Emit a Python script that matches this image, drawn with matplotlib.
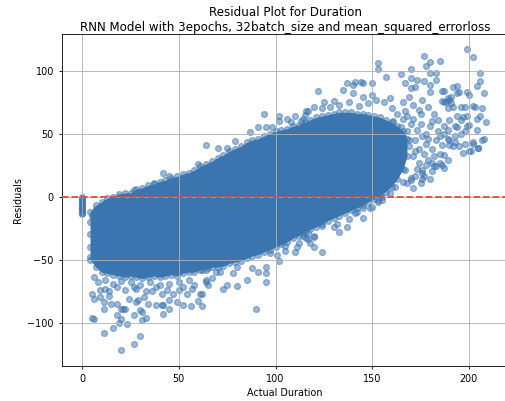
import numpy as np
import matplotlib
matplotlib.use("Agg")
import matplotlib.pyplot as plt

plt.rcParams["font.size"] = 6.9

# residuals of the rows whose actual duration is 0
zero_res = [0, -1, -2, -3, -4, -5, -6, -7, -8, -9, -10, -11, -12, -13, -14]

# outline of the dense middle of the cloud (actual duration -> residual range)
core_dur = [4, 7, 10, 13, 16, 19, 22, 25, 28, 31, 34, 37, 40, 43, 46, 49, 52, 55, 58, 61,
            64, 67, 70, 73, 76, 79, 82, 85, 88, 91, 94, 97, 100, 103, 106, 109, 112, 115,
            118, 121, 124, 127, 130, 133, 136, 139, 142, 145, 148, 151, 154, 157, 160, 163,
            166, 168]
core_hi = [-12, -7, -4, -1, 0, 2, 3, 3, 6, 7, 9, 10, 12, 13, 15, 16, 18, 19, 21, 24,
           26, 28, 31, 33, 36, 38, 40, 43, 45, 46, 48, 50, 52, 53, 54, 56, 57, 59,
           61, 63, 64, 65, 66, 67, 67, 67, 66, 66, 65, 64, 63, 61, 59, 56,
           52, 46]
core_lo = [-50, -56, -60, -61, -62, -63, -64, -63, -64, -65, -64, -63, -64, -63, -62, -63,
           -61, -60, -60, -58, -58, -56, -56, -55, -53, -52, -51, -49, -47, -46, -44, -42,
           -40, -38, -36, -33, -31, -28, -26, -24, -22, -19, -17, -15, -13, -11, -9, -7,
           -4, -2, 1, 4, 8, 14, 22, 32]

# scattered points above the cloud
upper_pts = [(7, -10), (10, -10), (15, -3), (19, 0), (27, 5), (37, 11), (42, 19), (45, 16),
             (60, 26), (64, 41), (70, 39), (75, 39), (79, 44), (87, 51), (91, 55), (94, 66),
             (95, 55), (98, 55), (102, 60), (102, 64), (108, 59), (113, 60), (114, 62),
             (115, 65), (117, 68), (116, 68), (120, 71), (122, 84), (125, 75), (130, 76),
             (135, 85), (137, 90), (140, 89), (140, 82), (141, 91), (144, 91), (145, 90),
             (145, 79), (150, 90), (150, 81), (152, 77), (153, 106), (153, 101), (156, 75),
             (157, 95), (159, 78), (128, 71), (133, 73), (138, 75), (143, 72), (148, 74),
             (110, 64), (106, 62), (124, 70)]

# long durations, where the cloud thins out
right_pts = [(165, 97), (170, 101), (177, 112), (180, 107), (178, 104), (185, 108), (180, 98),
             (183, 98), (170, 94), (173, 93), (177, 92), (180, 89), (167, 90), (172, 87),
             (170, 86), (180, 83), (183, 93), (187, 84), (192, 87), (194, 88), (199, 117),
             (202, 111), (206, 98), (206, 92), (204, 88), (208, 82), (199, 83), (194, 82),
             (198, 71), (187, 75), (189, 78), (191, 74), (202, 72), (207, 70), (209, 59),
             (204, 62), (206, 64), (199, 64), (197, 63), (194, 64), (204, 53), (208, 46),
             (202, 43), (205, 39), (197, 35), (201, 36), (195, 83), (200, 81), (186, 84),
             (191, 79), (196, 71), (192, 71), (189, 70), (186, 76), (190, 77), (188, 75),
             (196, 61), (199, 56), (194, 55), (198, 52), (196, 50), (193, 48), (190, 45),
             (189, 46), (185, 48), (187, 50), (192, 40), (190, 41), (187, 33), (185, 34),
             (182, 32), (181, 27), (187, 23), (186, 25), (180, 14), (177, 16), (171, 7),
             (175, 11), (168, 11), (166, 12), (200, 57), (198, 42), (195, 40), (193, 43),
             (203, 71), (189, 29), (200, 36), (205, 39), (202, 42), (207, 45), (162, 8),
             (159, 3), (155, 0), (153, -3), (176, 14), (176, 19), (181, 20), (183, 24),
             (185, 27), (170, 13), (172, 16), (166, 75), (169, 79), (171, 73), (174, 69),
             (176, 77), (179, 71), (182, 66), (184, 61), (187, 56), (189, 53), (168, 64),
             (170, 58), (173, 53), (176, 48), (178, 42), (181, 38), (183, 45), (186, 41),
             (166, 48), (169, 40), (171, 32), (174, 27), (176, 21), (179, 29), (182, 24),
             (167, 21), (170, 15), (175, 58), (180, 56), (172, 45), (177, 34), (165, 32),
             (190, 61), (193, 56), (162, 20), (163, 30), (164, 40), (162, 50), (165, 55),
             (166, 62), (161, 60), (163, 66), (167, 68), (160, 70), (168, 52), (171, 62),
             (174, 38), (178, 50), (181, 60), (184, 52), (173, 22), (178, 25), (169, 45),
             (175, 66), (172, 36), (179, 46)]

# scattered points below the cloud
lower_pts = [(102, -51), (124, -44), (110, -44), (111, -40), (112, -37), (120, -40), (118, -37),
             (117, -34), (105, -43), (105, -39), (120, -31), (117, -29), (114, -31), (133, -28),
             (137, -24), (130, -24), (132, -22), (138, -18), (145, -17), (141, -13), (149, -9),
             (145, -9), (153, -4), (155, -3), (150, -8), (142, -12), (124, -23), (120, -32),
             (116, -33), (114, -29), (95, -68), (90, -89), (85, -66), (80, -71), (75, -70),
             (73, -73), (67, -65), (64, -68), (62, -77), (62, -87), (91, -60), (95, -61),
             (95, -56), (88, -57), (78, -61), (80, -56), (71, -60), (69, -60), (65, -57),
             (62, -58), (101, -46), (97, -45), (20, -122), (27, -117), (30, -111), (11, -108),
             (16, -104), (19, -100), (23, -101), (20, -97), (5, -96), (6, -97), (18, -94),
             (20, -89), (22, -89), (27, -94), (31, -92), (33, -96), (31, -98), (30, -90),
             (42, -93), (45, -89), (42, -86), (5, -77), (6, -81), (9, -80), (11, -84), (11, -89),
             (14, -79), (15, -85), (18, -85), (21, -89), (24, -81), (28, -84), (29, -82),
             (32, -80), (34, -85), (38, -86), (41, -86), (45, -82), (49, -84), (52, -86),
             (56, -87), (60, -83), (9, -74), (12, -73), (22, -74), (27, -72), (33, -75),
             (36, -75), (41, -77), (47, -77), (50, -74), (54, -77), (61, -77), (65, -70),
             (64, -66), (6, -64), (8, -68), (12, -66), (16, -69), (20, -67), (25, -68),
             (30, -70), (35, -68), (40, -70), (45, -69), (50, -68), (55, -66), (58, -70),
             (14, -75), (18, -72), (28, -73), (38, -72), (44, -74), (52, -72), (57, -73),
             (4, -20), (4, -30), (4, -40), (4, -48), (5, -15)]

blue = "#3a75b0"

pts = np.array(upper_pts + right_pts + lower_pts, dtype=float)
dur = np.concatenate([np.zeros(len(zero_res)), core_dur, core_dur, pts[:, 0]])
res = np.concatenate([zero_res, core_hi, core_lo, pts[:, 1]])

fig = plt.figure(figsize=(5.05, 4.01), dpi=100)
ax = fig.add_axes([0.1228, 0.0873, 0.884, 0.829])

ax.fill_between(core_dur, core_lo, core_hi, color=blue, lw=0)
ax.scatter(dur, res, s=18, color=blue, alpha=0.5, linewidths=0.9)
ax.axhline(y=0, color="#e8473c", linestyle="--", lw=1.3, zorder=3)

ax.set_xlim(-10.5, 220.5)
ax.set_ylim(-134.5, 129.5)
ax.set_xticks([0, 50, 100, 150, 200])
ax.set_yticks([-100, -50, 0, 50, 100])
ax.grid(True, color="#b0b0b0", lw=0.6)
for sp in ax.spines.values():
    sp.set_linewidth(0.6)
ax.tick_params(width=0.6, length=2.4)

ax.set_xlabel("Actual Duration", labelpad=2.5)
ax.set_ylabel("Residuals", labelpad=2.8)
ax.set_title("Residual Plot for Duration\n"
             "RNN Model with 3epochs, 32batch_size and mean_squared_errorloss",
             fontsize=8.6, pad=1.2)

fig.savefig("out.png", dpi=100)
